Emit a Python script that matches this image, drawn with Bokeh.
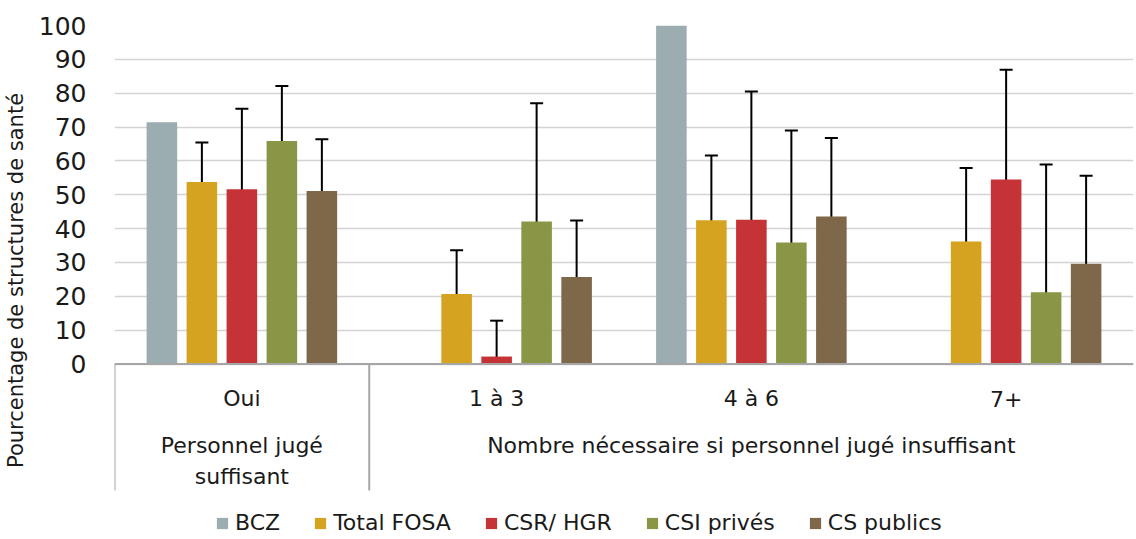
import math
from bokeh.plotting import figure
from bokeh.models import (ColumnDataSource, Range1d, FixedTicker, Whisker, TeeHead,
                          Legend, LegendItem)
from bokeh.transform import dodge
from bokeh.core.properties import value
from bokeh.embed import file_html
from bokeh.resources import INLINE

NaN = float("nan")

# ---- data ----
sub_labels = ["Oui", "1 à 3", "4 à 6", "7+"]
group_labels = ["Personnel jugé\nsuffisant", "Nombre nécessaire si personnel jugé insuffisant"]
group_members = [[0], [1, 2, 3]]          # which sub-categories belong to each group
series = ["BCZ", "Total FOSA", "CSR/ HGR", "CSI privés", "CS publics"]
colors = ["#9BADB1", "#D6A320", "#C63336", "#8A9646", "#7F6749"]

bcz = [71.4, NaN, 100.0, NaN]
total_fosa = [53.8, 20.7, 42.5, 36.2]
csr_hgr = [51.6, 2.2, 42.6, 54.5]
csi_prives = [65.9, 42.1, 35.9, 21.2]
cs_publics = [51.1, 25.7, 43.6, 29.6]

total_fosa_lo = [41.9, 11.8, 25.3, 19.0]
total_fosa_hi = [65.4, 33.6, 61.6, 57.9]
csr_hgr_lo = [27.1, 0.3, 11.8, 17.6]
csr_hgr_hi = [75.4, 12.8, 80.5, 86.9]
csi_prives_lo = [45.0, 13.6, 12.3, 4.7]
csi_prives_hi = [82.1, 77.0, 69.0, 58.9]
cs_publics_lo = [35.8, 14.1, 23.1, 12.6]
cs_publics_hi = [66.4, 42.4, 66.8, 55.6]

values = [bcz, total_fosa, csr_hgr, csi_prives, cs_publics]
lows = [None, total_fosa_lo, csr_hgr_lo, csi_prives_lo, cs_publics_lo]
highs = [None, total_fosa_hi, csr_hgr_hi, csi_prives_hi, cs_publics_hi]

y_ticks = list(range(0, 101, 10))
y_title = "Pourcentage de structures de santé"

# ---- layout (pixels) ----
W, H = 1134, 537
TOP, BOTTOM_BORDER, LEFT = 25, 2, 114
AXIS_PX = 363.5                      # page y of value 0
px_per_unit = (AXIS_PX - TOP) / 100.0
frame_bottom = H - BOTTOM_BORDER
y_start = -(frame_bottom - AXIS_PX) / px_per_unit

def px_below_axis(px):
    return -px / px_per_unit

sub_y = px_below_axis(34.5)
grp_y = px_below_axis(69.0)
sep_y = px_below_axis(126.5)

# ---- derived positions (category slots of width 1) ----
n = len(sub_labels)
centers = [i + 0.5 for i in range(n)]
group_centers = [sum(centers[i] for i in g) / len(g) for g in group_members]
group_bounds = [float(g[0]) for g in group_members]

FONT = "DejaVu Sans"
TXT = "#1a1a1a"
AXC = "#a6a6a6"

p = figure(x_range=Range1d(0, n), y_range=Range1d(y_start, 100), width=W, height=H,
           output_backend="svg", toolbar_location=None, x_axis_location=None,
           min_border_left=LEFT, min_border_right=1, min_border_top=TOP,
           min_border_bottom=BOTTOM_BORDER)
p.outline_line_color = None
p.background_fill_color = "white"
p.border_fill_color = "white"

# y axis
p.yaxis.ticker = FixedTicker(ticks=y_ticks)
p.yaxis.axis_line_color = None
p.yaxis.major_tick_line_color = None
p.yaxis.minor_tick_line_color = None
p.yaxis.major_label_text_font = FONT
p.yaxis.major_label_text_font_size = "25px"
p.yaxis.major_label_text_color = TXT
p.yaxis.major_label_standoff = 22
p.yaxis.axis_label = y_title
p.yaxis.axis_label_text_font = FONT
p.yaxis.axis_label_text_font_size = "21px"
p.yaxis.axis_label_text_font_style = "normal"
p.yaxis.axis_label_text_color = TXT
p.yaxis.axis_label_standoff = 8
p.ygrid.ticker = FixedTicker(ticks=y_ticks)
p.ygrid.grid_line_color = "#d3d3d3"
p.ygrid.grid_line_width = 1.5
p.xgrid.grid_line_color = None

# bars + error bars
offsets = [-0.314, -0.157, 0.0, 0.157, 0.314]
items = []
for name, col, vals, lo, hi, off in zip(series, colors, values, lows, highs, offsets):
    src = ColumnDataSource(dict(x=centers, top=vals))
    r = p.vbar(x=dodge("x", off), top="top", bottom=0, width=0.12, source=src,
               fill_color=col, line_color=None)
    items.append(LegendItem(label=name, renderers=[r]))
    if lo is not None:
        keep = [i for i in range(n) if not math.isnan(vals[i])]
        esrc = ColumnDataSource(dict(x=[centers[i] for i in keep],
                                     lower=[lo[i] for i in keep],
                                     upper=[hi[i] for i in keep]))
        w = Whisker(base=dodge("x", off), lower="lower", upper="upper",
                    source=esrc, dimension="height", line_color="black", line_width=2,
                    upper_head=TeeHead(size=13, line_color="black", line_width=2),
                    lower_head=TeeHead(size=13, line_color="black", line_width=2))
        p.add_layout(w)

# category axis: base line, group separators and labels
p.segment(x0=[0], x1=[n], y0=[0], y1=[0], line_color=AXC, line_width=2)
p.segment(x0=group_bounds, x1=group_bounds, y0=[0] * len(group_bounds),
          y1=[sep_y] * len(group_bounds), line_color=AXC, line_width=2)
p.text(x=centers, y=[sub_y] * n, text=sub_labels, text_align="center",
       text_baseline="middle", text_font=value(FONT), text_font_size="22px",
       text_color=TXT)
p.text(x=group_centers, y=[grp_y] * len(group_centers), text=group_labels,
       text_align="center", text_baseline="top", text_font=value(FONT),
       text_font_size="22px", text_color=TXT, text_line_height=1.25)

legend = Legend(items=items, orientation="horizontal", location=(101, 0),
                glyph_width=14, glyph_height=14, label_standoff=6, spacing=33,
                label_text_font=FONT, label_text_font_size="22px", label_text_color=TXT,
                padding=0, margin=0, border_line_color=None, background_fill_alpha=0)
p.add_layout(legend, "center")

open("out.html", "w").write(file_html(p, INLINE))
